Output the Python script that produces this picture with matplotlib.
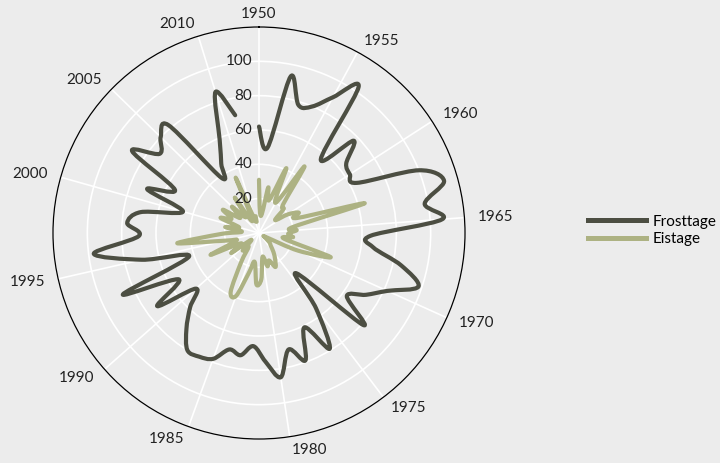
import numpy as np
import matplotlib
matplotlib.use('Agg')
import matplotlib.pyplot as plt
from matplotlib.path import Path
from matplotlib.patches import PathPatch
from matplotlib.lines import Line2D
from matplotlib import transforms

# Frost days / ice days per year
years = list(range(1950, 2012))
frosttage = [62, 50, 93, 78, 80, 90, 103, 56, 77, 65,
             63, 64, 100, 112, 98, 107, 65, 67, 85, 98,
             82, 72, 63, 81, 32, 55, 79, 61, 79, 70,
             85, 75, 66, 72, 70, 78, 80, 80, 70, 59,
             49, 73, 54, 87, 43, 70, 97, 70, 77, 70,
             46, 70, 55, 88, 74, 80, 82, 39, 46, 59,
             86, 70]
eistage = [31, 10, 27, 20, 41, 20, 47, 22, 20, 12,
           20, 26, 24, 64, 20, 22, 17, 20, 15, 44,
           25, 5, 4, 8, 10, 14, 18, 22, 17, 20,
           14, 27, 30, 17, 24, 39, 38, 20, 10, 14,
           6, 20, 12, 31, 14, 20, 48, 22, 10, 20,
           12, 24, 18, 25, 14, 22, 12, 25, 8, 35,
           8, 10]
year_ticks = list(range(1950, 2011, 5))
r_ticks = [20, 40, 60, 80, 100]

R_MAX = 120
N_SLOTS = 63          # the circle spans 1950 .. 2012
BG = '#ececec'
C_FROST = '#4c4e42'
C_EIS = '#adb283'
FONT = 'Lato'


def year_angle(y):
    return (y - 1950) * 2 * np.pi / N_SLOTS


def spline_path(theta, r):
    """Catmull-Rom spline through the points, built in cartesian space
    and handed back as a polar (theta, r) bezier path."""
    pts = np.column_stack([r * np.cos(theta), r * np.sin(theta)])
    n = len(pts)
    verts = [pts[0]]
    codes = [Path.MOVETO]
    for i in range(n - 1):
        p0 = pts[max(i - 1, 0)]
        p1, p2 = pts[i], pts[i + 1]
        p3 = pts[min(i + 2, n - 1)]
        verts += [p1 + (p2 - p0) / 6.0, p2 - (p3 - p1) / 6.0, p2]
        codes += [Path.CURVE4] * 3
    verts = np.array(verts)
    th = np.arctan2(verts[:, 1], verts[:, 0])
    rr = np.hypot(verts[:, 0], verts[:, 1])
    return Path(np.column_stack([th, rr]), codes)


fig = plt.figure(figsize=(7.2, 4.63), dpi=100, facecolor=BG)
ax = fig.add_axes([53 / 720, 24 / 463, 412 / 720, 412 / 463],
                  projection='polar', facecolor=BG)
ax.set_theta_zero_location('N')
ax.set_theta_direction(-1)

theta = np.array([year_angle(y) for y in years])
for vals, col in [(frosttage, C_FROST), (eistage, C_EIS)]:
    patch = PathPatch(spline_path(theta, np.array(vals, float)),
                      fill=False, edgecolor=col, lw=3.0,
                      capstyle='round', joinstyle='round', zorder=3)
    ax.add_patch(patch)

ax.set_ylim(0, R_MAX)
ax.set_yticks(r_ticks + [R_MAX])
ax.set_yticklabels([])
ax.set_xticks([year_angle(y) for y in year_ticks])
ax.set_xticklabels([])
ax.grid(True, color='white', lw=1.2)
ax.tick_params(length=0)
ax.spines['polar'].set_color('black')
ax.spines['polar'].set_linewidth(0.9)

# year labels around the circle
for y in year_ticks:
    a = year_angle(y)
    s = np.sin(a)
    ha = 'left' if s > 0.05 else ('right' if s < -0.05 else 'center')
    ax.text(a, R_MAX + 7.6, str(y), ha=ha, va='center',
            fontsize=11, family=FONT, color='#222222')

# radial labels along the 1950 spoke
lab_tr = transforms.offset_copy(ax.transData, fig=fig, x=-5, y=0,
                                units='points')
for r in r_ticks:
    ax.text(0, r, str(r), transform=lab_tr, ha='right', va='center',
            fontsize=11, family=FONT, color='#222222', zorder=4)

handles = [Line2D([], [], color=C_FROST, lw=3.6),
           Line2D([], [], color=C_EIS, lw=3.6)]
fig.legend(handles, ['Frosttage', 'Eistage'], loc='center left',
           bbox_to_anchor=(588 / 720, 0.502), frameon=False,
           borderpad=0, borderaxespad=0, handlelength=3.8,
           handletextpad=0.4, labelspacing=0.25,
           prop={'family': FONT, 'size': 11})

fig.savefig('out.png', dpi=100, facecolor=BG)
